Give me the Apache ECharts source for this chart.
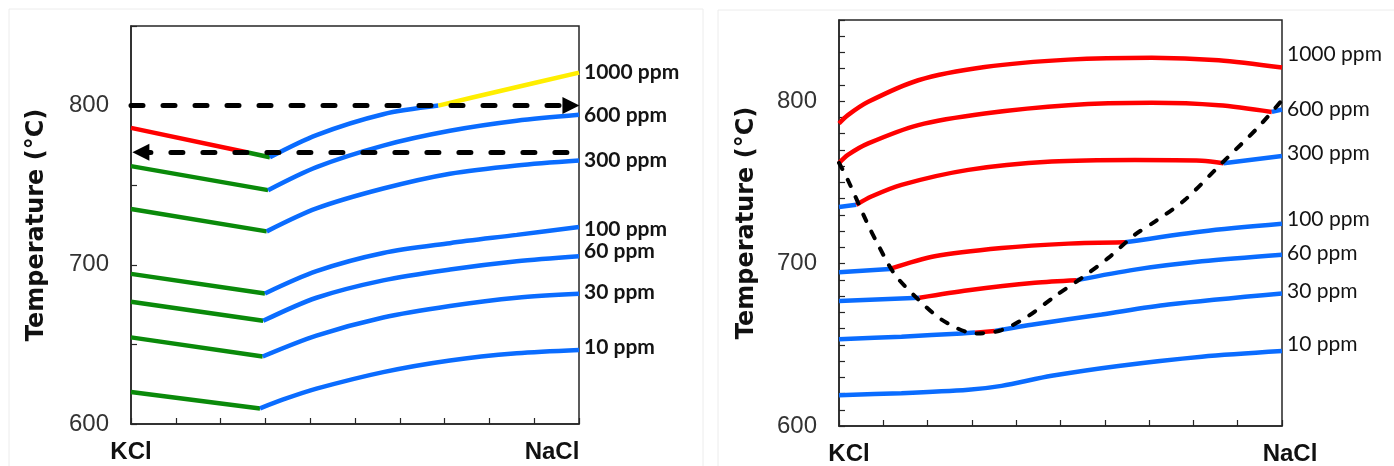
<!DOCTYPE html>
<html>
<head>
    <meta charset="utf-8">
    <title>KCl - NaCl liquidus</title>
    <script src="https://cdn.jsdelivr.net/npm/echarts@6/dist/echarts.min.js"></script>
    <style>
        body { margin: 0; background: #fff; }
        #main { width: 1394px; height: 466px; }
    </style>
</head>
<body>
<div id="main"></div>
<script type="text/javascript">
    // x = mole fraction NaCl (0 = KCl, 1 = NaCl), y = temperature in °C
    var tempTicks = [600, 700, 800];
    var ppmNames = ['1000 ppm', '600 ppm', '300 ppm', '100 ppm', '60 ppm', '30 ppm', '10 ppm'];

    // left panel: liquidus lines
    var left1000 = [[0, 786], [0.258, 770.7], [0.31, 767.6], [0.414, 781.5], [0.563, 794.6], [0.686, 800], [0.824, 809.2], [1, 820.7]];
    var left600 = [[0, 762], [0.306, 746.9], [0.414, 761.4], [0.563, 774.9], [0.712, 784.2], [0.861, 790.5], [1, 794.2]];
    var left300 = [[0, 735], [0.303, 721], [0.414, 735.4], [0.563, 747.9], [0.712, 757.2], [0.861, 762.4], [1, 765.5]];
    var left100 = [[0, 694.3], [0.299, 682], [0.414, 696], [0.563, 707.4], [0.712, 713.6], [0.861, 718.8], [1, 723.8]];
    var left60 = [[0, 676.8], [0.295, 664.8], [0.414, 679.3], [0.563, 690.2], [0.712, 697], [0.861, 702.2], [1, 705.4]];
    var left30 = [[0, 654.4], [0.294, 642.4], [0.414, 655.5], [0.563, 666.9], [0.712, 674.1], [0.861, 679.3], [1, 681.8]];
    var left10 = [[0, 620.1], [0.288, 609.8], [0.34, 615.4], [0.414, 622.2], [0.563, 632.6], [0.712, 639.9], [0.861, 644.4], [1, 646.5]];

    // phase along each line: phase, x where the next one starts, phase ...
    var leftPh1000 = ['r', 0.258, 'g', 0.31, 'b', 0.686, 'y'];
    var leftPh600 = ['g', 0.306, 'b'];
    var leftPh300 = ['g', 0.303, 'b'];
    var leftPh100 = ['g', 0.299, 'b'];
    var leftPh60 = ['g', 0.295, 'b'];
    var leftPh30 = ['g', 0.294, 'b'];
    var leftPh10 = ['g', 0.288, 'b'];

    // left panel dashed arrows
    var arrowHigh = [[0, 800], [0.982, 800]];
    var arrowLow = [[0.973, 770.7], [0.022, 770.7]];

    // right panel: liquidus lines
    var right1000 = [[0, 786.3], [0.02, 791.4], [0.066, 799.6], [0.179, 812.9], [0.329, 821], [0.518, 825.6], [0.706, 826.8], [0.857, 825.2], [1, 820.7]];
    var right600 = [[0, 761.8], [0.02, 766.9], [0.066, 774], [0.179, 785.3], [0.329, 792.4], [0.518, 797.5], [0.706, 799], [0.857, 797.5], [0.977, 793.4], [1, 794.9]];
    var right300 = [[0, 734.8], [0.039, 736.2], [0.073, 741.3], [0.141, 748.5], [0.292, 757.7], [0.48, 762.8], [0.668, 763.8], [0.819, 763.4], [0.868, 761.8], [1, 766.3]];
    var right100 = [[0, 694.7], [0.115, 696.7], [0.216, 704.5], [0.367, 709.6], [0.518, 712.3], [0.646, 713.1], [0.819, 719.8], [1, 724.5]];
    var right60 = [[0, 676.9], [0.182, 679], [0.292, 683.6], [0.442, 688.2], [0.537, 689.8], [0.668, 696.3], [0.819, 701.4], [1, 705.5]];
    var right30 = [[0, 653.4], [0.141, 655], [0.277, 657], [0.307, 657.5], [0.352, 658.5], [0.442, 662.6], [0.593, 668.7], [0.744, 674.8], [1, 681.6]];
    var right10 = [[0, 619], [0.141, 620.2], [0.292, 622.3], [0.367, 624.7], [0.48, 630.9], [0.631, 637], [0.819, 642.7], [1, 646.2]];

    var rightPh1000 = ['r'];
    var rightPh600 = ['r', 0.977, 'b'];
    var rightPh300 = ['b', 0.039, 'r', 0.868, 'b'];
    var rightPh100 = ['b', 0.115, 'r', 0.646, 'b'];
    var rightPh60 = ['b', 0.182, 'r', 0.537, 'b'];
    var rightPh30 = ['b', 0.307, 'r', 0.352, 'b'];
    var rightPh10 = ['b'];

    // right panel dashed boundary
    var boundary = [[0, 762], [0.02, 751.5], [0.062, 726], [0.088, 711.7], [0.126, 693.3], [0.179, 677.9], [0.231, 665.6],
        [0.292, 657.5], [0.314, 657], [0.367, 659.1], [0.427, 667.7], [0.488, 680], [0.548, 691.2], [0.608, 703.5],
        [0.668, 717.8], [0.714, 726], [0.781, 739.3], [0.864, 761.8], [0.947, 784.2], [1, 800.6]];

    var phaseColor = {r: '#ff0000', g: '#0a8a0a', b: '#0a6cff', y: '#ffee00'};
    var leftLabelDy = [0, 0, 0, 2, -5, -2, -3];
    var rightLabelDy = [-13, 0, -3, -5, -1, -2, -7];

    function split(points, phases) {
        var out = [];
        var from = -Infinity;
        for (var i = 0; i < phases.length; i += 2) {
            var to = i + 1 < phases.length ? phases[i + 1] : Infinity;
            out.push({
                phase: phases[i],
                pts: points.filter(function (p) { return p[0] >= from - 1e-9 && p[0] <= to + 1e-9; })
            });
            from = to;
        }
        return out;
    }

    var series = [];

    function addCurve(g, points, phases, name, dy, bold) {
        var segs = split(points, phases);
        segs.forEach(function (s, k) {
            var last = k === segs.length - 1;
            series.push({
                type: 'line',
                xAxisIndex: g,
                yAxisIndex: g,
                data: s.pts,
                showSymbol: false,
                smooth: s.pts.length > 2 ? 0.3 : false,
                silent: true,
                lineStyle: {color: phaseColor[s.phase], width: 4.5},
                endLabel: last ? {
                    show: true,
                    formatter: name,
                    distance: 5,
                    offset: [0, dy],
                    color: '#141414',
                    fontFamily: 'Lato',
                    fontWeight: bold ? 'bold' : 'normal',
                    fontSize: 21
                } : undefined
            });
        });
    }

    var leftLines = [left1000, left600, left300, left100, left60, left30, left10];
    var leftPhases = [leftPh1000, leftPh600, leftPh300, leftPh100, leftPh60, leftPh30, leftPh10];
    var rightLines = [right1000, right600, right300, right100, right60, right30, right10];
    var rightPhases = [rightPh1000, rightPh600, rightPh300, rightPh100, rightPh60, rightPh30, rightPh10];

    ppmNames.forEach(function (n, i) {
        addCurve(0, leftLines[i], leftPhases[i], n, leftLabelDy[i], true);
        addCurve(1, rightLines[i], rightPhases[i], n, rightLabelDy[i], false);
    });

    // dashed arrows, left panel
    series.push({
        type: 'line',
        xAxisIndex: 0,
        yAxisIndex: 0,
        data: [],
        silent: true,
        z: 5,
        markLine: {
            silent: true,
            animation: false,
            label: {show: false},
            symbol: ['none', 'triangle'],
            symbolSize: [17, 17],
            lineStyle: {color: '#000', width: 5, type: [12, 20], cap: 'round'},
            emphasis: {disabled: true},
            data: [
                [{coord: arrowHigh[0]}, {coord: arrowHigh[1]}],
                [{coord: arrowLow[0]}, {coord: arrowLow[1]}]
            ]
        }
    });

    // dashed boundary, right panel
    series.push({
        type: 'line',
        xAxisIndex: 1,
        yAxisIndex: 1,
        data: boundary,
        showSymbol: false,
        smooth: 0.3,
        silent: true,
        z: 5,
        lineStyle: {color: '#000', width: 4, type: [7, 12], cap: 'round'}
    });

    var axisColor = '#262626';

    function xAxisFor(g, kclPad, naclPad) {
        return {
            type: 'value',
            gridIndex: g,
            min: 0,
            max: 1,
            interval: 0.1,
            splitLine: {show: false},
            axisLine: {lineStyle: {color: axisColor, width: 1.5}},
            axisTick: {inside: true, length: 6, lineStyle: {color: axisColor, width: 1.2}},
            axisLabel: {
                showMinLabel: true,
                showMaxLabel: true,
                margin: 16,
                formatter: function (v) {
                    if (v === 0) return '{k|KCl}';
                    if (v === 1) return '{n|NaCl}';
                    return '';
                },
                rich: {
                    k: {fontFamily: 'Liberation Sans', fontWeight: 'bold', fontSize: 24, color: '#111', padding: kclPad},
                    n: {fontFamily: 'Liberation Sans', fontWeight: 'bold', fontSize: 24, color: '#111', padding: naclPad}
                }
            }
        };
    }

    function yAxisFor(g, step, gap) {
        return {
            type: 'value',
            gridIndex: g,
            min: 600,
            max: 850,
            interval: step,
            splitLine: {show: false},
            axisLine: {lineStyle: {color: axisColor, width: 1.5}},
            axisTick: {inside: true, length: 6, lineStyle: {color: axisColor, width: 1.2}},
            axisLabel: {
                margin: 22,
                fontFamily: 'Liberation Sans',
                fontSize: 24,
                color: '#333',
                formatter: function (v) {
                    return tempTicks.indexOf(v) >= 0 ? String(v) : '';
                }
            },
            name: 'Temperature (°C)',
            nameLocation: 'middle',
            nameGap: gap,
            nameTextStyle: {fontFamily: 'DejaVu Sans', fontWeight: 'bold', fontSize: 24, color: '#111'}
        };
    }

    var myChart = echarts.init(document.getElementById('main'));
    var option = {
        animation: false,
        backgroundColor: '#fff',
        grid: [
            {left: 131, top: 26, width: 448, height: 398, show: true, borderColor: axisColor, borderWidth: 1.5, backgroundColor: 'transparent'},
            {left: 839, top: 20, width: 443, height: 407, show: true, borderColor: axisColor, borderWidth: 1.5, backgroundColor: 'transparent'}
        ],
        xAxis: [
            xAxisFor(0, [0, 0, 0, 0], [0, 54, 0, 0]),
            xAxisFor(1, [0, 0, 0, 20], [0, 0, 0, 16])
        ],
        yAxis: [
            yAxisFor(0, 50, 82),
            yAxisFor(1, 10, 80)
        ],
        graphic: [
            {type: 'rect', shape: {x: 9, y: 9, width: 694, height: 470}, style: {fill: 'none', stroke: '#ececec', lineWidth: 1}, silent: true, z: -1},
            {type: 'rect', shape: {x: 718, y: 10, width: 690, height: 470}, style: {fill: 'none', stroke: '#ececec', lineWidth: 1}, silent: true, z: -1}
        ],
        series: series
    };
    myChart.setOption(option);
</script>
</body>
</html>
